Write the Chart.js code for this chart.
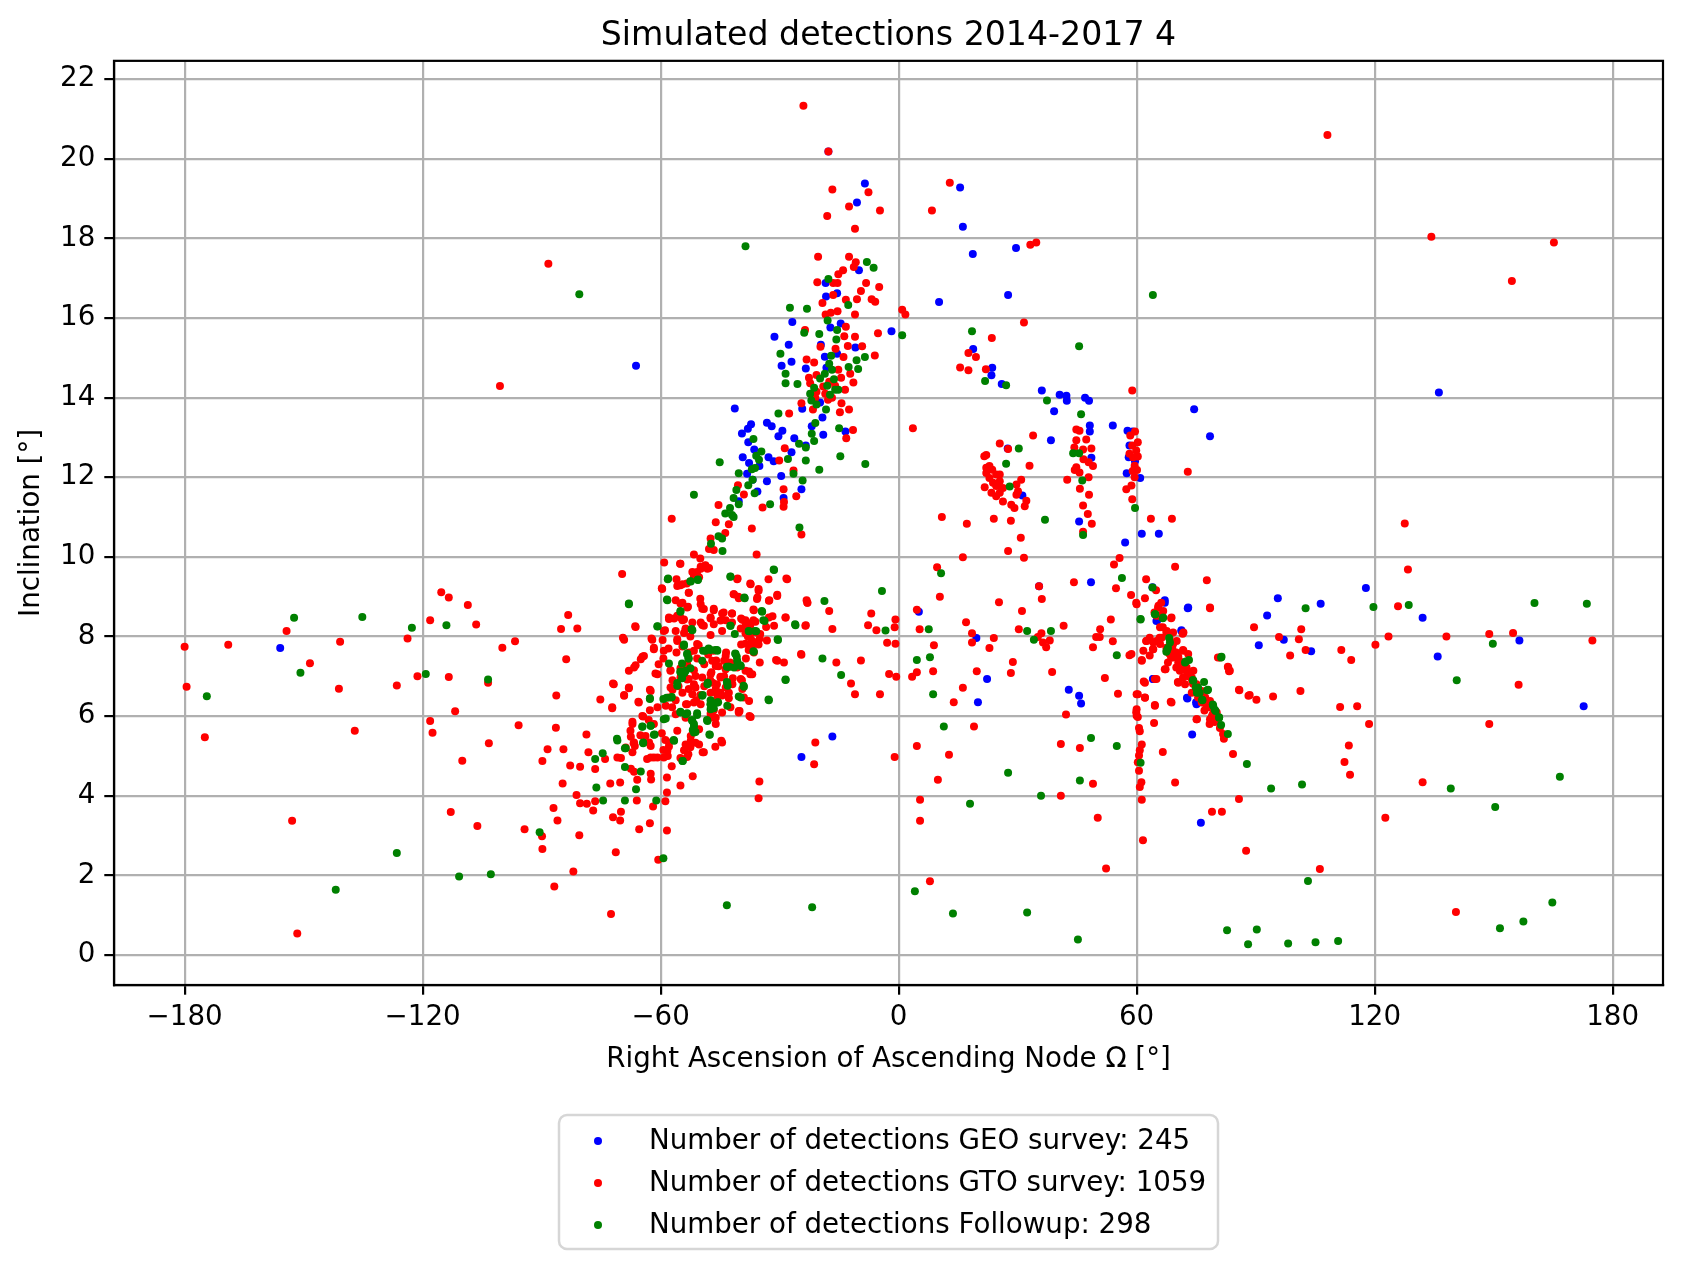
<!DOCTYPE html>
<html>
<head>
<meta charset="utf-8">
<script src="https://cdn.jsdelivr.net/npm/chart.js@4.4.1/dist/chart.umd.min.js"></script>
<style>
  html, body { margin: 0; padding: 0; background: #fff; }
  #wrap { width: 1683px; height: 1269px; }
</style>
</head>
<body>
<div id="wrap"><canvas id="scatter" width="1683" height="1269"></canvas></div>
<script>
// values: [RAAN deg, inclination deg]
const geoPoints = [
  [-17.7,20.18],[-8.5,19.38],[-10.5,18.9],[-18.4,16.88],[-18.3,16.54],[-15.5,16.62],[-10.0,17.2],[-66.2,14.8],
  [-26.8,15.9],[-14.6,15.86],[-17.2,15.76],[-31.3,15.53],[-27.7,15.33],[-19.6,15.33],[-10.9,15.26],[-18.6,15.03],
  [-27.0,14.9],[-29.5,14.8],[-23.4,14.73],[-15.5,15.1],[-18.2,14.75],[-24.3,13.72],[-19.8,13.88],[-41.3,13.73],
  [-19.2,13.5],[-37.2,13.33],[-33.2,13.37],[-32.0,13.28],[-21.9,13.28],[-38.0,13.22],[-39.5,13.1],[-29.3,13.17],
  [-30.3,13.03],[-13.4,13.15],[-19.0,13.07],[-37.9,12.88],[-26.3,12.98],[-23.4,12.8],[-36.4,12.7],[-27.0,12.63],
  [-39.3,12.5],[-32.8,12.5],[-31.5,12.4],[-37.7,12.36],[-35.1,12.28],[-38.2,12.09],[-29.6,12.03],[-36.8,11.94],
  [-33.2,11.9],[-35.6,11.64],[-24.5,11.7],[-29.0,11.48],[-40.3,11.4],[-24.5,4.97],[-16.7,5.49],
  [15.5,19.28],[16.2,18.29],[29.6,17.76],[18.7,17.61],[27.6,16.58],[10.2,16.4],[-1.8,15.67],[18.8,15.22],
  [23.6,14.75],[23.4,14.56],[26.0,14.34],[36.1,14.18],[40.6,14.07],[42.3,14.05],[42.4,13.92],[47.0,14.0],
  [48.0,13.92],[74.5,13.71],[39.2,13.66],[78.5,13.03],[54.0,13.3],[48.2,13.3],[48.2,13.15],[38.4,12.93],
  [48.6,12.49],[45.5,10.89],[57.7,13.17],[59.0,13.15],[58.2,12.8],[58.0,12.5],[57.5,12.1],[60.9,11.98],
  [59.6,12.4],[31.2,11.54],[61.3,10.58],[65.6,10.58],[57.1,10.36],[27.5,12.72],
  [5.1,8.62],[35.4,9.26],[48.5,9.36],[64.0,9.24],[67.1,8.91],[65.2,8.41],[72.9,8.71],[95.6,8.96],[92.9,8.53],
  [97.1,7.92],[90.8,7.78],[71.3,8.16],[19.6,7.96],[22.3,6.93],[20.0,6.35],[42.9,6.66],[45.5,6.51],[46.0,6.32],
  [64.1,6.93],[72.7,6.46],[75.0,6.35],[74.0,5.54],[76.2,3.32],
  [73.0,8.73],[67.1,8.85],[65.0,8.39],[71.3,8.14],[64.2,6.93],[72.8,6.44],[75.1,6.3],
  [-155.9,7.71],[136.2,14.13],[117.8,9.22],[106.4,8.82],[132.1,8.47],[156.5,7.9],[135.9,7.5],[104.0,7.63],[172.7,6.25]
];

const gtoPoints = [
  [-24.0,21.33],[-17.7,20.18],[-7.6,19.16],[-16.7,19.23],[-12.5,18.8],[-4.7,18.7],[-18.0,18.56],[-11.0,18.24],
  [-20.3,17.54],[-12.5,17.54],[-10.8,17.4],[-11.3,17.28],[-14.0,17.2],[-15.2,17.1],[-20.5,16.9],[-16.5,16.88],
  [-15.4,16.88],[-8.2,16.88],[-4.9,16.78],[-9.5,16.68],[-16.5,16.58],[-19.2,16.38],[-13.3,16.46],[-10.5,16.47],
  [-6.8,16.47],[-5.9,16.41],[-18.4,16.09],[-17.1,16.13],[-15.4,16.17],[-11.0,16.09],[-23.6,15.7],[-13.3,15.78],
  [-5.2,15.62],[-13.7,15.54],[-11.0,15.53],[-19.7,15.28],[-15.9,15.23],[-12.8,15.3],[-9.2,15.29],[-6.0,15.06],
  [-13.9,15.02],[-23.2,14.96],[-21.3,14.88],[-15.2,14.7],[-12.2,14.6],[-22.6,14.5],[-20.7,14.57],[-11.4,14.38],
  [-22.3,14.36],[-19.0,14.28],[-20.7,14.15],[-17.5,14.4],[-16.0,14.3],[-14.5,14.5],[-18.5,14.1],[-16.8,14.0],
  [-13.5,14.2],[-21.0,14.0],[-17.8,13.95],[-24.5,13.86],[-14.4,13.86],[-12.5,13.7],[-21.6,13.7],[-14.8,13.63],
  [-27.6,13.6],[-11.5,13.19],[-13.2,12.98],[-28.7,12.73],[-30.1,12.42],[-26.5,12.17],[-40.5,11.8],[-29.0,11.7],
  [-39.0,11.57],[-25.8,11.52],[-28.9,11.38],[-45.4,11.3],[-34.3,11.24],[-29.0,11.26],
  [-57.2,10.96],[-46.1,10.87],[-42.8,10.82],[-43.7,10.6],[-47.4,10.46],[-46.6,10.17],[-47.8,10.2],[-37.0,10.71],
  [-24.5,10.56],[-35.8,10.06],[-51.6,10.06],[-50.0,9.96],[-59.1,9.86],[-55.1,9.83],[-69.7,9.57],[-52.0,9.62],
  [-50.8,9.62],[-49.9,9.7],[-48.7,9.79],[-48.2,9.7],[-51.6,9.5],[-56.0,9.44],[-40.6,9.46],[-32.8,9.44],
  [-28.3,9.46],[-37.4,9.33],[-55.0,9.29],[-53.4,9.33],[-59.7,9.21],[-52.9,9.1],[-35.3,9.19],[-41.6,9.06],
  [-40.4,9.0],[-35.6,8.98],[-32.6,8.91],[-30.6,9.05],[-56.2,8.91],[-55.0,8.83],[-50.0,8.95],[-49.5,8.7],
  [-46.6,8.7],[-53.1,8.75],[-44.1,8.6],[-42.0,8.58],[-36.6,8.68],[-31.8,8.51],[-28.5,8.48],[-23.2,8.91],
  [-23.0,8.85],[-17.5,8.64],[-6.9,8.58],[-0.8,8.43],[-83.3,8.54],[-85.1,8.19],[-81.0,8.2],[-66.4,8.26],
  [-58.9,8.16],[-57.9,8.48],[-56.6,8.45],[-55.0,8.48],[-54.1,8.43],[-53.7,8.2],[-54.1,8.09],[-49.5,8.29],
  [-47.4,8.45],[-44.9,8.4],[-39.7,8.45],[-38.6,8.41],[-36.6,8.41],[-38.2,8.24],[-37.4,8.28],[-33.4,8.24],
  [-23.4,8.28],[-16.7,8.19],[-7.7,8.28],[-5.6,8.16],[-1.0,8.23],
  [-99.9,7.72],[-96.7,7.88],[-83.8,7.43],[-69.5,7.97],[-62.3,7.95],[-59.5,7.91],[-61.7,7.72],[-55.8,7.93],
  [-52.5,8.0],[-50.4,7.78],[-47.4,8.04],[-37.0,7.9],[-35.7,7.85],[-33.2,7.9],[-39.7,7.8],[-30.9,7.41],
  [-24.6,7.56],[-15.7,7.35],[-9.5,7.4],[-12.0,6.82],[-11.0,6.55],[-4.7,6.55],[-2.4,7.06],[-2.9,7.84],
  [-0.8,7.82],[-37.7,7.12],[-37.4,7.05],[-44.9,6.99],[-41.8,6.95],[-39.5,6.9],[-46.2,6.6],[-44.5,6.52],
  [-42.8,6.45],[-51.6,6.8],[-53.3,6.92],[-55.0,7.2],[-53.3,7.3],[-51.6,7.15],[-57.5,7.15],[-60.5,7.3],
  [-59.3,7.45],[-64.6,7.49],[-66.3,7.28],[-68.0,7.14],[-61.3,7.07],[-72.0,6.82],[-68.0,6.7],[-69.2,6.53],
  [-62.7,6.66],[-65.6,6.36],[-75.2,6.42],[-86.3,6.52],[-72.2,6.2],[-57.0,6.66],[-56.2,6.4],[-53.6,6.3],
  [-51.0,6.4],[-50.0,6.53],[-46.6,6.15],[-47.4,6.06],[-40.1,6.13],[-37.6,6.0],[-103.5,6.84],
  [-56.0,7.6],[-54.5,7.75],[-52.8,7.6],[-50.8,7.45],[-49.0,7.3],[-47.2,7.1],[-45.4,7.25],[-48.0,7.55],
  [-46.0,7.4],[-44.0,7.0],[-43.5,7.6],[-42.5,7.35],[-38.5,7.45],[-36.5,7.6],[-35.0,7.35],[-58.0,7.7],
  [-57.0,6.9],[-55.5,6.75],[-52.0,6.55],[-49.0,6.75],[-47.5,6.9],[-45.8,6.8],[-38.0,8.0],[-36.0,8.1],
  [-35.0,7.95],[-37.0,7.7],
  // finer read of the lower-left blob
  [-55.0,9.83],[-49.9,9.75],[-48.8,9.78],[-47.8,9.72],[-51.6,9.57],[-50.3,9.49],[-54.5,9.31],[-52.9,9.1],
  [-55.8,9.27],[-59.6,9.19],[-49.9,8.81],[-49.1,8.69],[-53.3,8.73],[-54.5,8.85],[-46.6,8.66],[-44.5,8.58],
  [-42.0,8.58],[-40.7,9.44],[-37.3,9.31],[-35.3,9.15],[-35.7,8.94],[-32.7,8.9],[-30.6,9.02],[-28.1,9.44],
  [-41.5,9.06],[-40.3,8.96],[-23.0,8.85],[-28.5,8.48],[-23.5,8.27],[-32.7,8.48],[-36.5,8.66],[-39.4,8.42],
  [-38.6,8.35],[-37.4,8.33],[-36.1,8.37],[-39.8,8.2],[-38.6,8.08],[-37.4,8.05],[-34.9,8.06],[-36.1,7.85],
  [-38.6,7.82],[-37.0,7.75],[-35.3,7.8],[-37.8,7.66],[-31.4,8.27],[-57.9,8.44],[-55.8,8.52],[-54.5,8.41],
  [-53.7,8.18],[-52.0,8.35],[-49.9,8.35],[-49.1,8.27],[-47.4,8.48],[-46.6,8.31],[-44.5,8.14],[-43.6,8.41],
  [-42.0,8.35],[-66.3,8.24],[-59.2,8.14],[-56.2,8.14],[-69.2,7.92],[-62.1,7.92],[-61.7,7.68],[-64.2,7.51],
  [-65.0,7.43],[-66.7,7.22],[-59.2,7.64],[-57.5,7.14],[-60.8,7.05],[-55.8,7.89],[-50.8,7.81],[-51.6,7.64],
  [-46.6,7.64],[-47.0,7.39],[-46.1,7.26],[-44.0,7.39],[-43.6,7.18],[-44.9,6.97],[-47.4,7.05],[-49.5,6.97],
  [-51.2,7.01],[-52.9,6.93],[-55.0,6.97],[-51.2,6.72],[-52.9,6.68],[-54.5,6.59],[-57.5,6.72],[-57.9,6.47],
  [-57.1,6.22],[-58.7,6.26],[-56.2,6.05],[-53.3,6.3],[-51.6,6.34],[-49.9,6.3],[-47.4,6.59],[-46.1,6.68],
  [-46.9,6.84],[-45.7,6.47],[-44.9,6.59],[-43.6,6.72],[-41.9,6.8],[-42.8,6.59],[-39.8,6.93],[-39.4,6.68],
  [-39.0,6.47],[-40.3,6.13],[-37.7,6.38],[-36.9,7.05],[-38.6,7.14],[-40.7,7.22],[-41.9,7.3],[-43.6,7.51],
  [-30.6,7.39],[-24.5,7.54],[-28.9,7.35],[-62.5,6.63],[-68.0,6.72],[-69.2,6.51],[-71.8,6.8],[-72.2,6.22],
  [-65.5,6.34],[-62.7,6.15],[-60.8,6.22],[-50.3,5.67],[-53.7,5.96],[-47.4,5.96],[-46.1,5.96],[-37.3,5.98],
  [-40.3,6.09],[-42.4,6.22],[-44.5,6.09],[-46.1,5.8],[-55.8,5.63],[-53.7,5.29],[-52.4,5.38],[-50.3,5.29],
  [-49.1,5.09],[-44.5,5.34],[-53.0,5.04],[-57.9,5.34],[-58.3,5.13],[-59.2,4.96],[-62.9,5.34],[-63.8,5.5],
  [-64.6,6.0],[-61.7,5.8],[-67.1,5.8],[-67.6,5.63],[-66.7,5.34],[-68.8,5.21],[-67.1,5.09],[-70.9,4.96],
  [-62.5,4.96],[-60.8,4.96],
  [-64.4,5.99],[-67.1,5.86],[-63.0,5.9],[-65.1,5.52],[-67.5,5.48],[-66.8,5.32],[-66.5,5.25],[-62.5,5.25],
  [-70.0,4.95],[-74.0,4.92],[-78.7,5.54],[-78.2,5.09],[-84.5,5.17],[-88.5,5.17],[-89.8,4.87],[-82.8,4.76],
  [-80.3,4.73],[-76.5,4.67],[-86.4,5.71],[-95.8,5.77],[-103.3,5.32],[-67.5,4.68],[-66.7,4.6],[-65.9,4.4],
  [-63.4,4.92],[-61.7,4.96],[-62.5,4.55],[-59.3,5.15],[-57.9,5.24],[-57.2,4.74],[-58.2,5.0],[-59.7,5.57],
  [-58.8,5.4],[-54.1,5.14],[-52.5,5.22],[-53.3,4.97],[-52.4,5.5],[-51.2,5.33],[-44.7,5.38],[-46.2,5.23],
  [-49.4,5.09],[-55.0,4.95],[-51.9,4.49],[-55.0,4.26],[-58.4,4.46],[-62.4,4.41],[-72.7,4.31],[-70.2,4.33],
  [-84.7,4.31],[-58.4,4.08],[-81.2,4.02],[-21.0,5.34],[-21.3,4.79],[-1.0,4.97],[-35.1,4.36],
  [-35.3,3.94],[-80.3,3.81],[-78.6,3.8],[-76.5,3.86],[-77.0,3.63],[-66.0,3.88],[-58.8,3.86],[-87.0,3.69],
  [-86.0,3.38],[-70.0,3.6],[-72.0,3.46],[-70.2,3.38],[-61.9,3.73],[-62.7,3.31],[-65.4,3.16],[-58.4,3.13],
  [-94.3,3.16],[-89.9,2.98],[-80.5,3.01],[-89.8,2.66],[-71.3,2.58],[-60.6,2.39],[-82.0,2.1],[-86.8,1.72],
  [-72.5,1.03],
  [12.9,19.4],[8.4,18.7],[33.2,17.84],[34.7,17.9],[0.9,16.21],[1.7,16.09],[31.6,15.89],[23.5,15.5],
  [17.6,15.12],[19.5,15.02],[15.5,14.76],[17.6,14.69],[22.0,14.71],[58.9,14.18],[3.6,13.23],[33.9,13.05],
  [44.8,13.2],[45.6,13.17],[44.8,12.93],[47.3,12.95],[44.3,12.75],[46.5,12.7],[48.6,12.72],[46.6,12.45],
  [47.9,12.38],[49.0,12.28],[44.8,12.25],[45.6,12.12],[44.4,12.18],[42.5,11.94],[47.9,12.0],[45.7,11.71],
  [48.0,11.56],[46.5,11.29],[47.7,11.08],[48.7,10.83],[46.5,10.63],
  [58.4,13.05],[59.6,13.15],[60.3,12.88],[58.9,12.8],[59.9,12.67],[59.1,12.5],[60.3,12.52],[58.2,12.59],
  [59.5,12.29],[60.1,12.18],[59.0,12.16],[59.5,12.0],[58.7,11.79],[57.4,11.7],[58.9,11.45],
  [72.9,12.14],[63.6,10.96],[68.9,10.96],[55.7,9.97],[27.6,10.15],[31.6,9.98],[16.2,9.99],[30.8,10.48],
  [24.0,10.96],[28.3,10.91],[17.2,10.83],[10.9,11.0],[25.5,12.85],[27.6,12.71],[21.6,12.53],[22.1,12.56],
  [33.0,12.29],[22.1,12.24],[22.9,12.28],[23.6,12.19],[22.1,12.11],[24.6,12.07],[25.5,12.07],[22.9,11.98],
  [25.5,11.9],[23.8,11.86],[21.7,11.75],[24.6,11.78],[26.3,11.73],[23.4,11.61],[25.5,11.61],[24.6,11.52],
  [26.3,11.39],[29.7,11.82],[30.9,11.94],[30.1,11.65],[29.7,11.56],[28.4,11.31],[29.2,11.23],[31.8,11.27],
  [32.2,11.41],
  [9.7,9.74],[10.4,9.0],[4.6,8.67],[5.3,8.18],[17.0,8.36],[25.3,8.86],[31.1,8.64],[35.4,9.26],[36.1,8.94],
  [44.2,9.36],[54.3,9.81],[54.8,9.21],[62.4,9.44],[69.7,9.75],[77.7,9.41],[78.5,8.71],[58.6,9.04],[62.1,8.96],
  [59.9,8.85],[64.9,9.16],[66.2,8.85],[65.4,8.72],[64.5,8.6],[65.8,8.52],[68.7,8.46],[89.6,8.23],[101.5,8.18],
  [95.9,7.99],[100.9,7.93],[102.6,7.66],[98.7,7.52],[53.5,8.43],[50.8,8.18],[49.8,7.99],[50.7,7.99],[41.6,8.27],
  [30.3,8.18],[36.0,8.08],[35.1,7.99],[36.4,7.85],[38.1,7.9],[37.2,7.73],[18.5,8.08],[18.5,7.85],[24.0,7.96],
  [22.9,7.71],[8.9,7.78],[28.8,7.36],[19.7,7.13],[28.3,7.08],[4.6,7.1],[3.4,6.99],[-0.6,6.99],[8.7,7.13],
  [16.2,6.71],[13.9,6.35],[38.7,7.11],[42.2,6.04],[52.0,6.96],[55.3,6.56],[54.0,7.88],[49.0,7.73],[58.2,7.53],
  [61.3,7.41],[63.3,7.52],[64.1,7.68],[62.4,7.89],[65.0,7.89],[65.8,7.97],[63.3,7.97],
  [71.6,8.07],[65.0,6.93],[61.8,6.87],[60.3,6.55],[62.1,6.46],[64.6,6.28],[59.9,6.1],[60.3,5.98],[60.6,5.7],
  [60.8,5.62],[64.4,5.83],[61.3,5.29],[60.8,5.14],[60.6,5.01],[60.3,4.84],[60.6,4.63],[61.2,4.34],[60.8,4.22],
  [61.3,3.9],[61.6,2.88],[66.6,5.1],[69.7,4.33],[68.6,6.36],
  [66.6,8.23],[67.5,8.1],[68.3,7.97],[67.5,7.72],[69.2,7.81],[70.0,7.6],[68.7,7.47],[70.8,7.39],[71.7,7.31],
  [70.0,7.22],[72.5,7.14],[73.4,7.01],[71.7,6.97],[74.2,6.81],[75.0,6.68],[75.9,6.6],[76.7,6.47],[77.6,6.3],
  [78.4,6.22],[77.1,6.14],[79.2,6.05],[79.7,5.85],[78.4,5.8],[81.8,5.55],[82.0,5.43],[70.4,6.86],[71.7,7.66],
  [67.3,7.18],[68.2,7.57],[69.0,7.7],[70.5,7.5],[72.0,7.2],[73.0,7.0],[74.0,6.9],[76.0,6.5],[77.0,6.4],
  [79.0,6.0],[80.0,5.9],[81.0,5.7],
  // finer read of the descending streak
  [60.0,8.81],[65.5,8.77],[65.0,8.52],[66.7,8.64],[68.8,8.48],[78.5,8.73],[65.9,8.23],[67.6,8.14],[69.2,8.1],
  [71.8,8.1],[66.3,7.97],[62.5,7.89],[64.2,7.85],[65.9,7.81],[70.1,7.89],[71.8,7.64],[64.2,7.68],[61.7,7.64],
  [58.7,7.56],[61.3,7.39],[67.6,7.64],[69.2,7.47],[67.9,7.35],[70.5,7.35],[73.0,7.56],[67.1,7.18],[70.9,7.14],
  [72.6,7.22],[74.3,7.14],[73.9,6.97],[75.1,6.8],[70.5,6.84],[72.2,6.8],[76.4,6.63],[77.3,6.47],[78.5,6.38],
  [79.3,6.22],[80.2,6.09],[77.6,6.22],[76.4,6.34],[75.5,6.47],[73.9,6.59],[64.6,6.93],[62.1,6.84],[60.0,6.55],
  [62.1,6.47],[68.8,6.34],[64.6,6.26],[60.0,6.17],[60.0,6.01],[83.1,7.22],[83.5,7.14],[81.0,7.47],[85.9,6.65],
  [88.2,6.51],[78.5,5.92],[75.1,5.92],
  [84.3,5.05],[85.8,6.66],[88.5,6.53],[90.2,6.41],[94.4,6.49],[101.3,6.63],[80.5,7.47],[83.0,7.24],[83.3,7.13],
  [75.2,5.92],[85.8,3.92],[79.0,3.6],[81.5,3.6],[87.6,2.62],[52.3,2.17],[50.2,3.45],[45.7,5.2],[40.9,5.3],
  [49.0,4.3],[40.9,4.0],[19.0,5.74],[12.7,5.03],[4.6,5.25],[9.9,4.4],[5.4,3.9],[5.4,3.37],[7.9,1.85],
  [-180.0,7.74],[-179.5,6.74],[-174.9,5.47],[-169.0,7.79],[-154.3,8.14],[-152.9,3.37],[-151.6,0.54],[-148.4,7.33],
  [-140.8,7.87],[-141.1,6.69],[-137.1,5.63],[-126.5,6.77],[-123.8,7.95],[-121.3,7.0],[-118.1,8.41],[-118.1,5.88],
  [-117.5,5.58],[-115.3,9.11],[-113.4,8.98],[-113.4,6.98],[-112.9,3.59],[-111.8,6.12],[-110.0,4.88],[-108.6,8.79],
  [-106.2,3.24],[-106.5,8.3],[-100.5,14.29],[-88.3,17.36],
  [108.1,20.6],[134.3,18.04],[165.2,17.9],[154.6,16.93],[127.6,10.84],[128.4,9.68],[125.9,8.76],[123.5,8.0],
  [138.1,8.0],[148.9,8.06],[154.9,8.09],[174.9,7.9],[111.6,7.66],[120.2,7.79],[114.1,7.41],[156.3,6.79],
  [111.3,6.23],[115.6,6.25],[118.6,5.8],[148.9,5.8],[113.5,5.26],[112.4,4.85],[113.8,4.53],[132.1,4.34],
  [122.7,3.45],[106.2,2.16],[140.5,1.08]
];

const followupPoints = [
  [-38.6,17.8],[-80.5,16.6],[-8.0,17.41],[-6.3,17.26],[-17.7,16.98],[-12.7,16.33],[-27.4,16.26],[-23.1,16.23],
  [-17.9,15.94],[-23.8,15.63],[-20.0,15.6],[-15.5,15.7],[-15.7,15.46],[-29.8,15.1],[-17.0,15.05],[-8.5,15.02],
  [-10.6,14.94],[-12.6,14.77],[-10.2,14.72],[-28.5,14.6],[-18.6,14.6],[-19.8,14.48],[-16.3,14.46],[-28.5,14.36],
  [-25.5,14.34],[-21.3,14.25],[-15.2,14.2],[-22.3,14.1],[-17.3,14.07],[-22.0,13.93],[-20.7,13.83],[-18.3,13.7],
  [-30.3,13.6],[-21.0,13.36],[-15.0,13.23],[-21.9,13.09],[-36.6,12.96],[-21.3,12.91],[-25.1,12.84],[-23.4,12.75],
  [-34.6,12.65],[-35.9,12.54],[-14.7,12.53],[-35.2,12.44],[-27.9,12.46],[-23.4,12.42],[-8.4,12.33],[-45.1,12.38],
  [-36.2,12.23],[-37.0,12.2],[-20.0,12.19],[-40.3,12.1],[-26.5,12.09],[-36.8,11.94],[-24.2,11.92],[-37.9,11.8],
  [-40.9,11.68],[-36.3,11.6],[-41.6,11.48],[-51.6,11.56],[-40.3,11.32],[-32.4,11.32],[-42.5,11.23],
  [-17.5,14.85],[-16.8,14.7],[-18.0,14.3],[-16.0,14.2],
  [-41.6,11.0],[-43.7,11.09],[-42.0,11.05],[-45.4,10.52],[-44.5,10.46],[-47.3,10.33],[-44.4,10.15],[-25.0,10.74],
  [-58.1,9.46],[-52.5,9.39],[-50.6,9.43],[-42.4,9.51],[-31.5,9.68],[-38.9,8.98],[-58.4,8.93],[-68.0,8.83],
  [-55.0,8.64],[-34.5,8.64],[-34.1,8.41],[-18.7,8.89],[-4.2,9.14],[-60.8,8.26],[-52.2,8.19],[-42.4,8.27],
  [-37.8,8.14],[-36.2,8.14],[-26.1,8.31],[-3.3,8.15],
  [-54.1,7.8],[-47.9,7.7],[-49.3,7.64],[-46.2,7.66],[-30.5,7.93],[-36.6,7.63],[-41.2,7.57],[-42.8,7.24],
  [-40.5,7.28],[-19.2,7.45],[-14.5,7.03],[-28.5,6.92],[-32.8,6.42],[-39.1,6.76],[-43.3,6.86],[-43.1,6.76],
  [-48.1,6.84],[-49.4,6.53],[-55.0,7.12],[-54.0,7.08],[-57.9,7.32],[-62.7,6.45],[-59.3,6.43],[-57.3,6.47],
  [-47.4,6.3],[-45.5,6.35],[-103.5,6.92],
  [-53.3,7.57],[-52.9,7.45],[-54.6,7.32],[-52.5,7.2],[-55.8,6.83],[-45.8,7.66],[-40.8,7.49],[-43.3,7.24],
  [-39.9,7.28],[-40.3,6.49],[-46.6,6.2],[-47.4,6.4],[-48.3,5.9],[-51.6,5.74],[-52.1,5.9],[-55.0,6.11],
  [-53.3,6.07],[-50.8,6.07],
  [-31.4,9.67],[-42.4,9.5],[-58.2,9.44],[-52.4,9.38],[-50.6,9.42],[-68.0,8.81],[-58.3,8.91],[-38.8,8.96],
  [-55.0,8.62],[-34.4,8.62],[-33.8,8.39],[-42.4,8.27],[-52.0,8.16],[-41.3,8.06],[-60.8,8.25],[-37.7,8.13],
  [-35.9,8.13],[-26.0,8.28],[-30.4,7.91],[-36.5,7.62],[-54.1,7.77],[-53.3,7.55],[-53.0,7.45],[-49.5,7.39],
  [-48.7,7.64],[-47.4,7.66],[-45.7,7.64],[-41.1,7.56],[-40.7,7.39],[-42.8,7.24],[-41.5,7.22],[-39.8,7.26],
  [-55.0,7.1],[-54.6,6.95],[-53.7,7.14],[-28.5,6.91],[-43.2,6.84],[-39.0,6.74],[-48.2,6.8],[-55.8,6.76],
  [-58.5,6.46],[-57.2,6.48],[-62.7,6.43],[-49.5,6.51],[-32.7,6.4],[-39.8,6.47],[-43.2,6.26],[-47.4,6.3],
  [-45.7,6.34],[-47.4,6.17],[-55.0,6.09],[-53.7,6.05],[-50.8,6.03],[-52.0,5.88],[-51.6,5.8],[-48.2,5.88],
  [-59.2,5.92],[-64.6,5.73],[-62.5,5.76],[-61.7,5.53],[-47.6,5.53],[-51.6,5.59],[-64.4,5.32],[-56.6,5.38],
  [-70.9,5.39],[-68.8,5.19],[-54.5,4.87],
  [-58.7,5.94],[-64.6,5.74],[-62.5,5.76],[-61.5,5.54],[-64.4,5.34],[-71.0,5.43],[-69.0,5.19],[-74.6,5.07],
  [-76.5,4.92],[-56.7,5.4],[-51.9,5.65],[-51.2,5.6],[-47.7,5.54],[-54.4,4.87],[-69.0,4.72],[-65.0,4.61],
  [-76.2,4.21],[-66.2,4.16],[-74.5,3.88],[-69.0,3.88],[-61.1,3.88],[-90.5,3.08],[-59.3,2.43],[-102.8,2.03],
  [-43.3,1.25],[-21.8,1.2],
  [64.1,16.58],[0.9,15.57],[18.5,15.67],[45.5,15.29],[21.8,14.42],[27.1,14.31],[37.4,13.93],[46.0,13.58],
  [44.0,12.6],[45.5,12.6],[46.3,11.92],[46.5,10.55],[59.6,11.23],[30.3,12.72],[27.1,12.34],[28.0,11.77],
  [36.9,10.93],
  [10.7,9.59],[7.6,8.18],[56.3,9.47],[64.0,9.23],[64.7,8.56],[66.6,8.46],[61.0,8.43],[102.6,8.71],[38.4,8.14],
  [32.4,8.14],[34.1,7.92],[4.6,7.41],[7.9,7.48],[8.7,6.55],[55.0,7.53],
  [68.2,7.96],[67.9,7.71],[67.5,7.62],[72.4,7.37],[73.2,7.41],[74.2,6.91],[77.0,6.86],[74.9,6.72],[78.0,6.66],
  [75.2,6.59],[76.5,6.41],[79.2,6.29],[79.7,6.16],[80.8,5.97],[81.3,5.78],[83.0,5.55],[87.8,4.8],
  [61.0,8.44],[64.6,8.56],[66.7,8.48],[68.4,7.85],[67.6,7.64],[72.2,7.35],[81.4,7.49],[74.3,6.89],[75.5,6.72],
  [75.9,6.59],[77.8,6.65],[76.6,6.4],[79.3,6.26],[79.9,6.13],[80.8,5.96],
  [81.3,7.47],[48.5,5.45],[55.0,5.25],[45.7,4.38],[35.9,4.0],[27.6,4.58],[18.0,3.8],[11.4,5.74],[61.0,4.83],
  [93.9,4.18],[101.7,4.28],[4.1,1.6],[13.7,1.04],[32.4,1.07],[45.2,0.39],[82.8,0.62],[90.3,0.64],[88.1,0.27],
  [98.2,0.29],[103.2,1.86],
  [-174.4,6.5],[-152.4,8.47],[-150.8,7.09],[-141.9,1.64],[-135.2,8.49],[-126.5,2.56],[-122.7,8.22],[-119.2,7.06],
  [-114.0,8.28],[-110.8,1.97],
  [119.7,8.74],[128.6,8.79],[160.3,8.84],[173.5,8.82],[149.8,7.82],[140.7,6.9],[166.7,4.48],[139.2,4.18],
  [150.4,3.72],[164.8,1.32],[157.5,0.84],[151.6,0.67],[105.1,0.32],[110.8,0.35]
];

const seriesLabels = [
  'Number of detections GEO survey: 245',
  'Number of detections GTO survey: 1059',
  'Number of detections Followup: 298'
];
const seriesColors = ['#0000ff', '#ff0000', '#008000'];

const xTicks = [-180, -120, -60, 0, 60, 120, 180];
const xTickLabels = ['\u2212180', '\u2212120', '\u221260', '0', '60', '120', '180'];
const yTicks = [0, 2, 4, 6, 8, 10, 12, 14, 16, 18, 20, 22];

const FONT = 'DejaVu Sans';
const BASE = 27.7;
const DOT = 4.0;

function toXY(list) {
  return list.map(p => ({ x: p[0], y: p[1] }));
}

// black box round the axes plus the boxed legend under the plot
const framePlugin = {
  id: 'frame',
  afterDraw(chart) {
    const ctx = chart.ctx;
    const a = chart.chartArea;
    ctx.save();
    ctx.strokeStyle = '#000';
    ctx.lineWidth = 2.2;
    ctx.strokeRect(a.left, a.top, a.right - a.left, a.bottom - a.top);

    ctx.beginPath();
    ctx.roundRect(559, 1115, 659, 134, 8);
    ctx.fillStyle = 'rgba(255,255,255,0.8)';
    ctx.fill();
    ctx.strokeStyle = '#d6d6d6';
    ctx.lineWidth = 2.5;
    ctx.stroke();

    ctx.font = BASE + 'px "' + FONT + '"';
    ctx.textBaseline = 'middle';
    ctx.textAlign = 'left';
    seriesLabels.forEach((label, i) => {
      const y = 1141 + i * 42;
      ctx.fillStyle = seriesColors[i];
      ctx.beginPath();
      ctx.arc(598, y, DOT, 0, Math.PI * 2);
      ctx.fill();
      ctx.fillStyle = '#000';
      ctx.fillText(label, 649, y + 1);
    });
    ctx.restore();
  }
};

const ctx = document.getElementById('scatter').getContext('2d');
const sets = [geoPoints, gtoPoints, followupPoints];

new Chart(ctx, {
  type: 'scatter',
  data: {
    datasets: sets.map((pts, i) => ({
      label: seriesLabels[i],
      data: toXY(pts),
      backgroundColor: seriesColors[i],
      borderWidth: 0,
      pointRadius: DOT,
      pointHoverRadius: DOT,
      order: 3 - i
    }))
  },
  options: {
    responsive: false,
    animation: false,
    devicePixelRatio: 1,
    events: [],
    layout: { padding: { left: 0, right: 20, top: 0, bottom: 193 } },
    plugins: {
      legend: { display: false },
      tooltip: { enabled: false },
      title: {
        display: true,
        fullSize: false,
        text: 'Simulated detections 2014-2017 4',
        color: '#000',
        font: { family: FONT, size: 33.2, weight: 'normal' },
        padding: { top: 16, bottom: 5 }
      }
    },
    scales: {
      x: {
        type: 'linear',
        min: -197.8,
        max: 192.7,
        afterBuildTicks: s => { s.ticks = xTicks.map(v => ({ value: v })); },
        afterFit: s => { s.height = 91; },
        ticks: {
          color: '#000',
          font: { family: FONT, size: BASE },
          padding: 6,
          maxRotation: 0,
          callback: (v, i) => xTickLabels[i]
        },
        grid: { color: '#b0b0b0', lineWidth: 2.2, tickColor: '#000', tickLength: 9.7, tickWidth: 2.2 },
        border: { display: true, color: '#000', width: 2.2 },
        title: {
          display: true,
          text: 'Right Ascension of Ascending Node \u03a9 [\u00b0]',
          color: '#000',
          font: { family: FONT, size: BASE },
          padding: { top: 0, bottom: 0 }
        }
      },
      y: {
        type: 'linear',
        min: -0.754,
        max: 22.46,
        afterBuildTicks: s => { s.ticks = yTicks.map(v => ({ value: v })); },
        afterFit: s => { s.width = 114; },
        ticks: {
          color: '#000',
          font: { family: FONT, size: BASE },
          padding: 9,
          callback: v => String(v)
        },
        grid: { color: '#b0b0b0', lineWidth: 2.2, tickColor: '#000', tickLength: 9.7, tickWidth: 2.2 },
        border: { display: true, color: '#000', width: 2.2 },
        title: {
          display: true,
          text: 'Inclination [\u00b0]',
          color: '#000',
          font: { family: FONT, size: BASE },
          padding: { top: 15, bottom: 0 }
        }
      }
    }
  },
  plugins: [framePlugin]
});
</script>
</body>
</html>
